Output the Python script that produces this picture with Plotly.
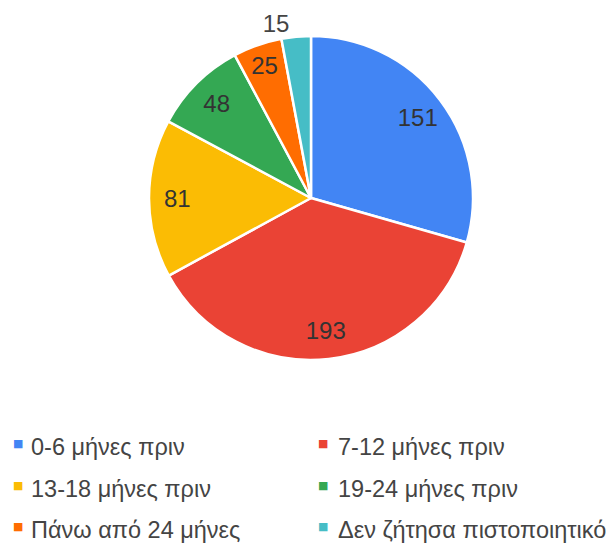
import plotly.graph_objects as go

labels = ["0-6 μήνες πριν", "7-12 μήνες πριν", "13-18 μήνες πριν",
          "19-24 μήνες πριν", "Πάνω από 24 μήνες", "Δεν ζήτησα πιστοποιητικό"]
values = [151, 193, 81, 48, 25, 15]
colors = ["#4285F4", "#EA4335", "#FBBC04", "#34A853", "#FF6D01", "#46BDC6"]
outside_label = [False, False, False, False, False, True]

W, H = 615, 543
FONT = "Arial, Liberation Sans, sans-serif"
domain = dict(x=[149 / W, 473 / W], y=[1 - 360 / H, 1 - 36 / H])

# coloured slices (carry the outside label of the smallest slice)
fig = go.Figure(go.Pie(
    labels=labels, values=values, sort=False, direction="clockwise", rotation=0,
    marker=dict(colors=colors, line=dict(color="white", width=2.5)),
    texttemplate=["%{value}" if o else "" for o in outside_label],
    textposition=["outside" if o else "none" for o in outside_label],
    outsidetextfont=dict(family=FONT, size=24, color="#444444"),
    automargin=False,
    domain=domain, showlegend=False,
    hoverinfo="label+value+percent",
))
# transparent ring carrying the inside value labels (places them at ~0.8 r)
fig.add_trace(go.Pie(
    labels=labels, values=values, sort=False, direction="clockwise", rotation=0,
    hole=0.65,
    marker=dict(colors=["rgba(0,0,0,0)"] * len(values), line=dict(width=0)),
    texttemplate=["" if o else "%{value}" for o in outside_label],
    textposition="inside",
    insidetextorientation="horizontal",
    textfont=dict(family=FONT, size=24, color="#333333"),
    automargin=False,
    domain=domain, showlegend=False, hoverinfo="skip",
))

# legend drawn as annotations, two columns
square_x = [11, 316]
text_x = [29, 336]
row_y = [446, 488, 529]
for i, (lab, c) in enumerate(zip(labels, colors)):
    col, row = i % 2, i // 2
    cy = row_y[row]
    fig.add_annotation(x=square_x[col] / W, y=1 - (cy - 3) / H, xref="paper", yref="paper",
                       xanchor="left", yanchor="middle", showarrow=False,
                       text="■", font=dict(family="DejaVu Sans", size=11, color=c))
    fig.add_annotation(x=text_x[col] / W, y=1 - (cy + 1) / H, xref="paper", yref="paper",
                       xanchor="left", yanchor="middle", showarrow=False,
                       text=lab, font=dict(family=FONT, size=23.5, color="#444444"))

fig.update_layout(
    width=W, height=H, margin=dict(l=0, r=0, t=0, b=0, autoexpand=False),
    paper_bgcolor="white", plot_bgcolor="white",
    uniformtext=dict(minsize=24, mode="show"),
)
fig.write_html("out.html", config={"displayModeBar": False},
               post_script="document.body.style.margin='0';")
